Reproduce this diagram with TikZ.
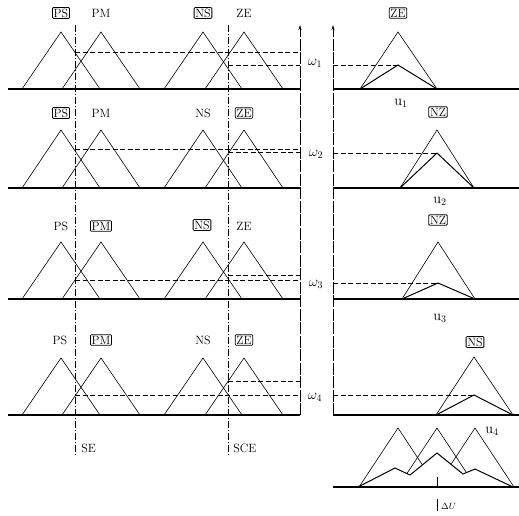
\documentclass[tikz,border=0pt]{standalone}
\usetikzlibrary{arrows.meta}
\begin{document}
\begin{tikzpicture}[x=1pt,y=-1pt,
 mf/.style={line width=0.6pt},
 base/.style={line width=1.1pt},
 cut/.style={line width=1pt},
 dsh/.style={dash pattern=on 5pt off 2.5pt, line width=0.9pt},
 axisline/.style={line width=0.7pt, dash pattern=on 12pt off 1.5pt},
 dashdot/.style={line width=0.6pt, dash pattern=on 7pt off 2pt on 1pt off 2pt},
 lbl/.style={font=\fontsize{12}{14}\selectfont, inner sep=1.2pt},
 blbl/.style={lbl, draw, line width=0.8pt, rounded corners=1pt},
 wl/.style={font=\Large, inner sep=0pt},
 ul/.style={font=\Large, inner sep=0pt}]
\useasboundingbox (0,0) rectangle (519,515);
\newcommand{\mytri}[3]{\draw[mf] ({#1-39},#3) -- (#1,#2) -- ({#1+39},#3);}
% rows: baselines, membership triangles
\foreach \b/\p in {89/32,188/130,299/242,415/358}{
  \draw[base] (8,\b) -- (300,\b);
  \draw[base] (333,\b) -- (519,\b);
  \mytri{61}{\p}{\b}
  \mytri{101}{\p}{\b}
  \mytri{203}{\p}{\b}
  \mytri{244}{\p}{\b}
}
% vertical axes
\draw[axisline,-{Stealth[length=5pt,width=3pt]}] (300,415) -- (300,25);
\draw[axisline,-{Stealth[length=5pt,width=3pt]}] (333,415) -- (333,25);
% SE and SCE lines
\draw[dashdot] (75,25) -- (75,455);
\draw[dashdot] (228,25) -- (228,455);
\node[lbl,anchor=west] (se) at (80,448) {SE};
\node[lbl,anchor=west] (sce) at (232,448) {SCE};
% row 1
\draw[dsh] (75,52) -- (300,52);
\draw[dsh] (228,65) -- (300,65);
\draw[dsh] (333,65) -- (398,65);
\draw[mf] (360,89) -- (398,32) -- (437,89);
\draw[cut] (360,89) -- (398,65) -- (437,89);
\node[blbl] (r1ps) at (61,13) {PS};
\node[lbl] (r1pm) at (101,13) {PM};
\node[blbl] (r1ns) at (203,13) {NS};
\node[lbl] (r1ze) at (244,13) {ZE};
\node[blbl] (r1out) at (398,13) {ZE};
\node[wl] (w1) at (315,63) {$\omega_1$};
\node[ul] (u1) at (401,103) {$\mathrm{u}_1$};
% row 2
\draw[dsh] (75,149) -- (300,149);
\draw[dsh] (228,152) -- (300,152);
\draw[dsh] (333,153) -- (437,153);
\draw[mf] (400,188) -- (437,130) -- (474,188);
\draw[cut] (400,188) -- (437,153) -- (474,188);
\node[blbl] (r2ps) at (61,113) {PS};
\node[lbl] (r2pm) at (101,113) {PM};
\node[lbl] (r2ns) at (203,113) {NS};
\node[blbl] (r2ze) at (244,113) {ZE};
\node[blbl] (r2out) at (438,112) {NZ};
\node[wl] (w2) at (316,154) {$\omega_2$};
\node[ul] (u2) at (440,201) {$\mathrm{u}_2$};
% row 3
\draw[dsh] (75,280) -- (300,280);
\draw[dsh] (228,275) -- (300,275);
\draw[dsh] (333,283) -- (438,283);
\draw[mf] (402,299) -- (438,242) -- (475,299);
\draw[cut] (402,299) -- (438,283) -- (475,299);
\node[lbl] (r3ps) at (61,226) {PS};
\node[blbl] (r3pm) at (101,226) {PM};
\node[blbl] (r3ns) at (202,225) {NS};
\node[lbl] (r3ze) at (244,226) {ZE};
\node[blbl] (r3out) at (438,220) {NZ};
\node[wl] (w3) at (316,284) {$\omega_3$};
\node[ul] (u3) at (440,318) {$\mathrm{u}_3$};
% row 4
\draw[dsh] (75,395) -- (300,395);
\draw[dsh] (228,381) -- (300,381);
\draw[dsh] (333,395) -- (474,395);
\draw[mf] (436,415) -- (474,357) -- (513,415);
\draw[cut] (436,415) -- (474,395) -- (513,415);
\node[lbl] (r4ps) at (60,340) {PS};
\node[blbl] (r4pm) at (101,340) {PM};
\node[lbl] (r4ns) at (203,340) {NS};
\node[blbl] (r4ze) at (244,340) {ZE};
\node[blbl] (r4out) at (475,342) {NS};
\node[wl] (w4) at (315,397) {$\omega_4$};
\node[ul] (u4) at (492,431) {$\mathrm{u}_4$};
% aggregate
\draw[base] (333,487) -- (519,487);
\begin{scope}
  \clip (358,487) -- (395,468) -- (410,475) -- (437,453) -- (463,474) -- (475,469) -- (513,487) -- (519,487) -- (519,420) -- (340,420) -- (340,487) -- cycle;
  \draw[mf] (359,487) -- (398,428) -- (437,487);
  \draw[mf] (398,487) -- (437,428) -- (476,487);
  \draw[mf] (436,487) -- (475,428) -- (514,487);
\end{scope}
\draw[cut] (358,487) -- (395,468) -- (410,475) -- (437,453) -- (463,474) -- (475,469) -- (513,487);
\draw[line width=1pt] (437,477) -- (437,487);
\draw[line width=0.8pt] (437,499) -- (437,511);
\node[font=\small, inner sep=0pt, anchor=west] (du) at (441,506) {$\Delta U$};
\end{tikzpicture}
\end{document}
